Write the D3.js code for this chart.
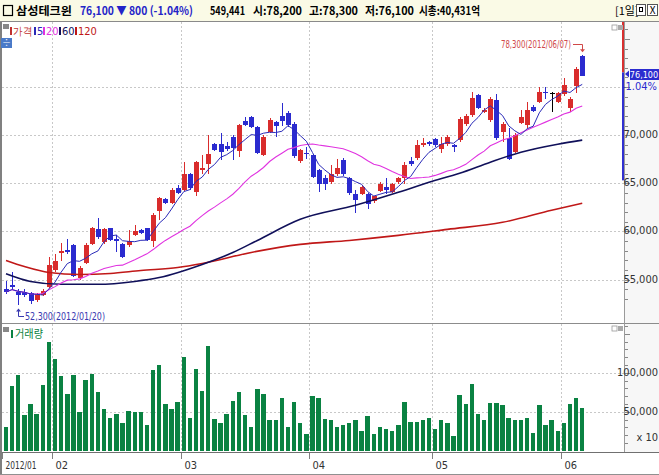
<!DOCTYPE html>
<html><head><meta charset="utf-8">
<script src="https://cdn.jsdelivr.net/npm/d3@7"></script>
<style>
body{margin:0;background:#fff;}
svg{display:block;font-family:"Noto Sans CJK KR","Noto Sans",sans-serif;}
</style></head><body>
<svg id="c" width="659" height="475"></svg>
<script>
// ---- data ----
const opens  = [54000,54400,53700,53700,53600,52900,53400,54200,55950,57800,58100,58550,55150,56700,58700,60200,58900,60300,59250,58650,58600,59600,60100,60350,59050,62100,63400,62950,64550,64350,66000,64100,66350,67000,69050,69050,68850,69850,68350,71450,71850,70800,67900,70350,71400,71950,72350,71200,67300,68150,67900,66350,65500,65150,66000,67450,65500,63850,63900,63900,63150,64200,64600,64100,65100,65550,67300,67650,68950,69300,69550,68600,69050,68950,69500,71200,72100,74150,72450,71550,73700,70300,69650,68250,71300,71050,72950,73450,74500,74400,73450,74250,72800,75100,78200];
const highs  = [54800,55800,54000,54000,53700,53600,54000,57300,57650,58800,59250,58700,56400,58800,60500,61400,60300,60400,59600,58800,60100,60700,60200,60400,61900,63600,63500,64500,64800,67200,66100,67300,67900,70000,69200,70250,69300,70000,71200,71900,72000,71000,70000,71750,71500,73350,72500,71400,68600,68800,68000,66500,65850,66850,67550,67600,65600,64250,64700,64000,63700,65100,65500,65000,65700,67200,67750,69500,69700,69400,69700,69850,70000,69100,71900,72200,74500,74300,72800,73950,74250,71400,70700,70200,72600,73450,73100,74950,75050,74500,74500,75900,74000,77100,78300];
const lows   = [53500,53900,52300,53200,52500,52700,53300,54100,55800,56950,57600,55300,55000,56600,58600,59200,58700,59000,57900,57200,58400,59500,59700,59000,58350,61150,62800,62800,63900,64200,64300,63650,66000,66000,68300,67400,68400,67400,67750,70900,70700,68000,67800,70200,69850,70900,70800,67600,67100,67550,65500,64100,64250,64900,65800,65800,63800,61900,63800,62350,63000,64100,63900,64000,64900,64950,66800,67400,68800,68900,68800,68100,68900,68250,69300,71000,71900,72700,72300,71400,69500,69300,67400,68100,71200,70750,72400,73300,73800,72450,73300,74100,72450,74350,76100];
const closes = [53700,54200,53400,53400,52800,53500,53850,56550,56950,58000,57900,55400,56200,58550,60300,59400,60200,59150,59050,57350,59050,60050,59850,59150,61750,63450,62900,64350,64000,65950,64500,67200,66550,68000,68450,68250,68600,68700,71050,71100,70850,68150,69850,71550,70950,71500,71050,67800,68450,68000,65650,64900,64900,66000,66600,65950,64000,63300,64600,62800,63650,64950,64250,64900,65500,66850,66950,68950,69200,69100,68950,69100,69850,68750,71650,72000,73900,72850,72650,73800,69650,71200,67550,70050,71900,72600,72550,74500,74400,74400,74400,75200,73750,76900,76100];
const volumes = [30900,83000,97000,46000,60000,47000,84000,139000,118000,96000,73000,97000,50000,91000,98000,75000,53000,42000,47000,35000,51000,50000,49000,33000,103000,110000,60000,54000,63000,120000,42000,105000,77000,134000,41000,35000,47000,64000,75000,46000,31000,79000,73000,39000,40000,67000,30000,63000,36000,21000,70000,67000,41000,39000,30000,33000,36000,40000,25000,45000,21000,30000,28000,25000,33000,63000,37000,37000,39000,42000,28000,40000,35000,19000,72000,60000,86000,47000,40000,61000,61000,58000,42000,40000,40000,42000,23000,58000,33000,39000,25000,36000,60000,68000,54944];
const monthStarts = [0,8,29,50,70,91];
const monthLabels = ["2012/01","02","03","04","05","06"];
const ma60Idx  = [0,4,9,15,21,25,32,37,41,48,57,64,69,74,79,84,90,94];
const ma60Vals = [55600,54800,54500,54500,54800,55200,56560,57800,59060,61250,62710,64060,65100,66040,67190,68230,69060,69480];
const ma120Idx  = [0,3,7,12,17,22,28,32,40,48,56,64,72,81,89,94];
const ma120Vals = [56980,56350,55730,55520,55630,55940,56250,56670,57810,58650,59060,59580,60210,60940,62190,62920];
const priceGrid = [55000,60000,65000,70000,75000];
const priceTickLabels = ["55,000","60,000","65,000","70,000"];
const volGrid = [50000,100000];
const volTickLabels = ["50,000","100,000"];
const legendItems = ["가격","5","20","60","120"];
const lastPrice = 76100, lastPct = "-1.04%", rangeLow = 65300;
const highNote = "78,300(2012/06/07)", lowNote = "52,300(2012/01/20)";
const highIdx = 94, highVal = 78300, lowIdx = 2, lowVal = 52300;
const headerName = "삼성테크윈";
const headerChange = "76,100 ▼ 800 (-1.04%)";
const headerParts = ["549,441","시:78,200","고:78,300","저:76,100","시총:40,431억"];

// ---- drawing ----
const svg = d3.select("#c");
const W = 659, H = 475;
const RED="#d92c2c", BLUE="#2b2bcf", GREEN="#0a8242";
const maColors = {m5:"#2a2ab8", m20:"#e033e0", m60:"#10105a", m120:"#c01818"};
const legendColors = ["#c03030","#2a2ab8","#e033e0","#10105a","#c01818"];
const axFont = "Liberation Sans Narrow, DejaVu Sans Condensed, sans-serif";

const n = closes.length;
const x = d3.scaleBand().domain(d3.range(n)).range([2.94, 585.3]).paddingInner(0.3).paddingOuter(0.15);
const cx = i => x(i) + x.bandwidth()/2;
const gx = i => cx(i) - x.step()/2;
const y = d3.scaleLinear().domain([55000,75000]).range([279.5,87]);
const yv = d3.scaleLinear().domain([0,100000]).range([450.7,372.7]);

const P = {right:624, top:22, bottom:322};
const V = {top:324, bottom:451};

// backgrounds
svg.append("rect").attr("width",W).attr("height",H).attr("fill","#ffffff");
svg.append("rect").attr("x",624).attr("y",22).attr("width",35).attr("height",430).attr("fill","#f7f7f7");
svg.append("rect").attr("width",W).attr("height",21).attr("fill","#fafae6");
svg.append("line").attr("x1",0).attr("x2",W).attr("y1",21.5).attr("y2",21.5).attr("stroke","#8a8a8a");

// grid
const grid = svg.append("g").attr("stroke","#c8c8c8").attr("stroke-dasharray","2,2").attr("shape-rendering","crispEdges");
priceGrid.forEach(v=>grid.append("line").attr("x1",2).attr("x2",P.right).attr("y1",Math.round(y(v))+0.5).attr("y2",Math.round(y(v))+0.5));
volGrid.forEach(v=>grid.append("line").attr("x1",2).attr("x2",P.right).attr("y1",Math.round(yv(v))+0.5).attr("y2",Math.round(yv(v))+0.5));
monthStarts.slice(1).forEach(i=>{
  const gxx = Math.round(gx(i))+0.5;
  grid.append("line").attr("x1",gxx).attr("x2",gxx).attr("y1",P.top).attr("y2",P.bottom);
  grid.append("line").attr("x1",gxx).attr("x2",gxx).attr("y1",V.top).attr("y2",V.bottom);
});

// candles
const cg = svg.append("g").attr("shape-rendering","crispEdges");
d3.range(n).forEach(i=>{
  const o=opens[i], c=closes[i];
  const col = c>o ? RED : (c<o ? BLUE : "#000");
  const xc = Math.round(cx(i));
  cg.append("line").attr("x1",xc+0.5).attr("x2",xc+0.5).attr("y1",y(highs[i])).attr("y2",y(lows[i])).attr("stroke",col);
  const top = y(Math.max(o,c)), bot = y(Math.min(o,c));
  cg.append("rect").attr("x",xc-2).attr("width",5).attr("y",top).attr("height",Math.max(1,bot-top)).attr("fill",col);
});

// moving averages
function sma(k){ return closes.map((_,i)=>{ const s=Math.max(0,i-k+1); return d3.mean(closes.slice(s,i+1)); }); }
const ma5 = sma(5), ma20 = sma(20);
const line = d3.line().x(d=>cx(d[0])).y(d=>y(d[1]));
svg.append("path").attr("d", line.curve(d3.curveMonotoneX)(ma120Idx.map((i,k)=>[i,ma120Vals[k]]))).attr("fill","none").attr("stroke",maColors.m120).attr("stroke-width",1.6);
svg.append("path").attr("d", line.curve(d3.curveMonotoneX)(ma60Idx.map((i,k)=>[i,ma60Vals[k]]))).attr("fill","none").attr("stroke",maColors.m60).attr("stroke-width",1.6);
svg.append("path").attr("d", line.curve(d3.curveLinear)(ma20.map((v,i)=>[i,v]))).attr("fill","none").attr("stroke",maColors.m20).attr("stroke-width",1.1);
svg.append("path").attr("d", line.curve(d3.curveLinear)(ma5.map((v,i)=>[i,v]))).attr("fill","none").attr("stroke",maColors.m5).attr("stroke-width",1);

// volume bars
svg.append("g").attr("shape-rendering","crispEdges").selectAll("rect").data(volumes).join("rect")
  .attr("x",(d,i)=>cx(i)-2.2).attr("width",4.4)
  .attr("y",d=>yv(d)).attr("height",d=>yv(0)-yv(d)).attr("fill",GREEN);

// annotations
const hx = Math.round(cx(highIdx))+0.5;
svg.append("text").attr("x",501).attr("y",48).attr("fill","#d04848").attr("font-size",10.5).attr("font-family",axFont)
  .attr("textLength",70).attr("lengthAdjust","spacingAndGlyphs").text(highNote);
svg.append("path").attr("d",`M573,44.5H${hx}V${y(highVal)-4}`).attr("fill","none").attr("stroke","#d04848");
svg.append("path").attr("d",`M${hx-2.5},${y(highVal)-6}L${hx+2.5},${y(highVal)-6}L${hx},${y(highVal)-3}Z`).attr("fill","#d04848");
const lx = Math.round(cx(lowIdx))+0.5;
svg.append("path").attr("d",`M${lx},${y(lowVal)+4}V316.5H24`).attr("fill","none").attr("stroke","#3838b0");
svg.append("path").attr("d",`M${lx-2.5},${y(lowVal)+6}L${lx+2.5},${y(lowVal)+6}L${lx},${y(lowVal)+3}Z`).attr("fill","#3838b0");
svg.append("text").attr("x",25).attr("y",320).attr("fill","#3838b0").attr("font-size",10.5).attr("font-family",axFont)
  .attr("textLength",80).attr("lengthAdjust","spacingAndGlyphs").text(lowNote);

// panel borders
svg.append("line").attr("x1",0).attr("x2",W).attr("y1",323.5).attr("y2",323.5).attr("stroke","#8c8c8c");
svg.append("line").attr("x1",0).attr("x2",W).attr("y1",452.5).attr("y2",452.5).attr("stroke","#707070");
svg.append("line").attr("x1",624.5).attr("x2",624.5).attr("y1",22).attr("y2",452).attr("stroke","#9a9a9a");
svg.append("rect").attr("x",0).attr("y",22).attr("width",2).attr("height",453).attr("fill","#808080");
svg.append("line").attr("x1",0).attr("x2",W).attr("y1",474.5).attr("y2",474.5).attr("stroke","#909090");

// price range bar on axis
svg.append("rect").attr("x",622).attr("y",22).attr("width",2).attr("height",y(lastPrice)-22-4).attr("fill","#d83030");
svg.append("rect").attr("x",622).attr("y",y(lastPrice)-4).attr("width",2).attr("height",y(rangeLow)-y(lastPrice)+4).attr("fill","#3030d0");

// right axes ticks
const ax = svg.append("g").attr("shape-rendering","crispEdges").attr("stroke","#888");
d3.range(53000,82000,1000).forEach(v=>{
  const yy = Math.round(y(v))+0.5; if(yy<24||yy>321) return;
  ax.append("line").attr("x1",625).attr("x2",v%5000===0?630:628).attr("y1",yy).attr("y2",yy);
});
d3.range(0,170000,10000).forEach(v=>{
  const yy = Math.round(yv(v))+0.5; if(yy<326||yy>451) return;
  ax.append("line").attr("x1",625).attr("x2",v%50000===0?630:628).attr("y1",yy).attr("y2",yy);
});
priceGrid.slice(0,4).forEach((v,k)=>svg.append("text").attr("x",658).attr("y",y(v)+3).attr("text-anchor","end").attr("font-size",11).attr("font-family",axFont).attr("fill","#333").text(priceTickLabels[k]));
volGrid.forEach((v,k)=>svg.append("text").attr("x",658).attr("y",yv(v)+3).attr("text-anchor","end").attr("font-size",11).attr("font-family",axFont).attr("fill","#333").text(volTickLabels[k]));
svg.append("text").attr("x",658).attr("y",441).attr("text-anchor","end").attr("font-size",11).attr("font-family",axFont).attr("fill","#333").text("x 10");
// current price marker
svg.append("path").attr("d",`M625,74L629,70.5L629,77.5Z`).attr("fill","#2b2bcf");
svg.append("rect").attr("x",630).attr("y",69).attr("width",29).attr("height",11).attr("fill","#2b2bcf");
svg.append("text").attr("x",644).attr("y",78).attr("text-anchor","middle").attr("font-size",9).attr("font-family",axFont).attr("fill","#fff")
  .text(d3.format(",")(lastPrice));
svg.append("text").attr("x",657).attr("y",90).attr("text-anchor","end").attr("font-size",11).attr("font-family",axFont).attr("fill","#2b2bcf").text(lastPct);

// x axis
monthStarts.forEach((i,k)=>{
  const gxx = k===0 ? 2.5 : Math.round(gx(i))+0.5;
  svg.append("line").attr("x1",gxx).attr("x2",gxx).attr("y1",453).attr("y2",459).attr("stroke","#808080").attr("shape-rendering","crispEdges");
  const t = svg.append("text").attr("x",gxx+3).attr("y",469).attr("font-size",11).attr("font-family",axFont).attr("fill","#333").text(monthLabels[k]);
  if(k===0) t.attr("textLength",31).attr("lengthAdjust","spacingAndGlyphs");
});

// legend (price panel)
svg.append("rect").attr("x",3).attr("y",24).attr("width",6).attr("height",5).attr("fill","#888");
const legX = [10,34,43,59,75];
const legW = [19,0,0,0,0];
legendItems.forEach((t,k)=>{
  svg.append("rect").attr("x",legX[k]).attr("y",27).attr("width",2).attr("height",8).attr("fill",legendColors[k]);
  const tt = svg.append("text").attr("x",legX[k]+3).attr("y",35).attr("font-size",11).attr("font-family",axFont).attr("fill",legendColors[k]).text(t);
  if(legW[k]) tt.attr("textLength",legW[k]).attr("lengthAdjust","spacingAndGlyphs");
});
svg.append("rect").attr("x",1).attr("y",38).attr("width",11).attr("height",10).attr("fill","#4a7ac8");
svg.append("text").attr("x",6.5).attr("y",46).attr("text-anchor","middle").attr("font-size",9).attr("fill","#fff").text("÷");
// volume legend
svg.append("rect").attr("x",3).attr("y",327).attr("width",6).attr("height",5).attr("fill","#888");
svg.append("rect").attr("x",11).attr("y",330).attr("width",2).attr("height",8).attr("fill",GREEN);
svg.append("text").attr("x",15).attr("y",338).attr("font-size",11).attr("fill",GREEN)
  .attr("textLength",28).attr("lengthAdjust","spacingAndGlyphs").text("거래량");

// small panel icons
[[612,25],[612,326]].forEach(([a,b])=>{
  svg.append("rect").attr("x",a).attr("y",b).attr("width",5).attr("height",5).attr("fill","#fff").attr("stroke","#999").attr("stroke-width",0.8);
  svg.append("rect").attr("x",a+6).attr("y",b).attr("width",5).attr("height",5).attr("fill","#aaa");
});

// header text
const hdr = svg.append("g").attr("font-size",11.5).attr("font-weight","bold");
hdr.append("rect").attr("x",3.5).attr("y",5.5).attr("width",9).attr("height",10).attr("fill","none").attr("stroke","#000").attr("stroke-width",1.2);
hdr.append("text").attr("x",16).attr("y",15).attr("fill","#000").attr("textLength",56).attr("lengthAdjust","spacingAndGlyphs").text(headerName);
hdr.append("text").attr("x",80).attr("y",15).attr("fill","#2424c8").attr("textLength",113).attr("lengthAdjust","spacingAndGlyphs").text(headerChange);
const segX = [210,253,309,365,419];
const segW = [35,49,49,49,61];
headerParts.forEach((t,k)=>hdr.append("text").attr("x",segX[k]).attr("y",15).attr("fill","#000")
  .attr("textLength",segW[k]).attr("lengthAdjust","spacingAndGlyphs").text(t));
svg.append("text").attr("x",615).attr("y",15).attr("font-size",11).attr("fill","#000").text("[1일]");
svg.append("rect").attr("x",636.5).attr("y",4.5).attr("width",9).attr("height",11).attr("fill","#fff").attr("stroke","#555");
svg.append("rect").attr("x",639.5).attr("y",7.5).attr("width",3).attr("height",4).attr("fill","none").attr("stroke","#000");
svg.append("rect").attr("x",647.5).attr("y",4.5).attr("width",10).attr("height",11).attr("fill","#fff").attr("stroke","#555");
svg.append("text").attr("x",652.5).attr("y",14).attr("text-anchor","middle").attr("font-size",10).attr("fill","#000").text("X");
</script></body></html>
